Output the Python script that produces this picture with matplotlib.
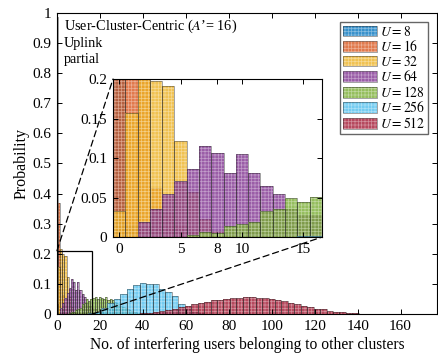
import matplotlib.pyplot as plt
from matplotlib.legend_handler import HandlerTuple
from matplotlib.patches import ConnectionPatch, Rectangle

plt.rcParams['font.family'] = ['Liberation Serif', 'DejaVu Serif']
plt.rcParams['mathtext.fontset'] = 'stix'
plt.rcParams['hatch.linewidth'] = 0.5

# histogram bin centres and probabilities
u8_x = [0, 1]
u8_p = [0.985, 0.015]

u16_x = [0, 1, 2, 3, 4, 5, 6, 7, 8]
u16_p = [0.30, 0.37, 0.21, 0.062, 0.03, 0.015, 0.008, 0.004, 0.001]

u32_x = [0, 1, 2, 3, 4, 5, 6, 7, 8, 9]
u32_p = [0.033, 0.157, 0.215, 0.198, 0.191, 0.122, 0.057, 0.023, 0.008, 0.003]

u64_x = list(range(2, 25))
u64_p = [0.019, 0.035, 0.054, 0.071, 0.086, 0.115, 0.107, 0.081, 0.105, 0.081,
         0.065, 0.055, 0.035, 0.028, 0.028, 0.02, 0.015, 0.01, 0.007, 0.005,
         0.003, 0.002, 0.001]

u128_x = list(range(6, 41))
u128_p = [0.003, 0.006, 0.005, 0.014, 0.017, 0.019, 0.033, 0.035, 0.049, 0.044,
          0.051, 0.052, 0.055, 0.05, 0.058, 0.052, 0.05, 0.055, 0.048, 0.05,
          0.045, 0.04, 0.038, 0.032, 0.028, 0.024, 0.02, 0.016, 0.012, 0.009,
          0.007, 0.005, 0.003, 0.002, 0.001]

u256_x = [16, 19, 22, 25, 28, 31, 34, 37, 40, 43, 46, 49, 52, 55, 58, 61, 64, 67, 70]
u256_p = [0.002, 0.008, 0.02, 0.035, 0.05, 0.066, 0.083, 0.097, 0.102, 0.101,
          0.099, 0.083, 0.074, 0.06, 0.033, 0.018, 0.008, 0.003, 0.001]

u512_x = list(range(37, 143, 3))
u512_p = [0.001, 0.002, 0.004, 0.006, 0.009, 0.013, 0.018, 0.022, 0.025,
          0.034, 0.036, 0.04, 0.046, 0.048, 0.051,
          0.053, 0.054, 0.055, 0.055, 0.054, 0.054,
          0.05, 0.046, 0.042, 0.038, 0.034, 0.028,
          0.024, 0.018, 0.015, 0.011, 0.008, 0.006, 0.004, 0.002, 0.001]

labels = ['$U = 8$', '$U = 16$', '$U = 32$', '$U = 64$',
          '$U = 128$', '$U = 256$', '$U = 512$']
series_x = [u8_x, u16_x, u32_x, u64_x, u128_x, u256_x, u512_x]
series_p = [u8_p, u16_p, u32_p, u64_p, u128_p, u256_p, u512_p]

# matlab default colour order
colors = [(0.0, 0.447, 0.741), (0.85, 0.325, 0.098), (0.929, 0.694, 0.125),
          (0.494, 0.184, 0.556), (0.466, 0.674, 0.188), (0.301, 0.745, 0.933),
          (0.635, 0.078, 0.184)]


def draw_hists(a):
    handles = []
    for x, p, c in zip(series_x, series_p, colors):
        w = x[1] - x[0]
        f = a.bar(x, p, width=w, color=c + (0.78,), edgecolor=(1, 1, 1, 0.4),
                  hatch='+++++', linewidth=0)
        e = a.bar(x, p, width=w, fill=False,
                  edgecolor=(0.15, 0.15, 0.15, 0.6), linewidth=0.5)
        handles.append((f[0], e[0]))
    return handles


def style(a, fs):
    a.tick_params(direction='in', top=True, right=True, length=3.5,
                  width=0.7, labelsize=fs, pad=4)
    for s in a.spines.values():
        s.set_linewidth(0.8)


fig = plt.figure(figsize=(4.38, 3.56), dpi=100)
ax = fig.add_axes([0.130, 0.118, 0.868, 0.846])
handles = draw_hists(ax)
ax.set_xlim(0, 177)
ax.set_ylim(0, 1)
ax.set_xticks(range(0, 161, 20))
ax.set_yticks([i / 10 for i in range(11)])
ax.set_yticklabels(['0', '0.1', '0.2', '0.3', '0.4', '0.5', '0.6', '0.7',
                    '0.8', '0.9', '1'])
style(ax, 11)
ax.set_xlabel('No. of interfering users belonging to other clusters',
              fontsize=11.2, labelpad=3)
ax.set_ylabel('Probability', fontsize=11.5, labelpad=2)

ax.text(0.018, 0.985, "User-Cluster-Centric ($A$\u2019= 16)\nUplink\npartial",
        transform=ax.transAxes, va='top', ha='left', fontsize=10.3,
        linespacing=1.28)

leg = ax.legend(handles, labels, handler_map={tuple: HandlerTuple(ndivide=1)},
                loc='upper right', fontsize=9.8, handlelength=2.55,
                handleheight=0.85, labelspacing=0.04, handletextpad=0.2,
                borderpad=0.22, borderaxespad=0.65, fancybox=False,
                framealpha=1)
leg.get_frame().set_edgecolor((0.4, 0.4, 0.4))
leg.get_frame().set_linewidth(1.0)

# zoom box
ax.add_patch(Rectangle((0, 0), 16.5, 0.21, fill=False, edgecolor='k',
                       linewidth=0.9, zorder=5))

ins = fig.add_axes([0.258, 0.334, 0.477, 0.444])
draw_hists(ins)
ins.set_xlim(-0.5, 16.5)
ins.set_ylim(0, 0.2)
ins.set_xticks([0, 5, 8, 10, 15])
ins.set_yticks([0, 0.05, 0.1, 0.15, 0.2])
ins.set_yticklabels(['0', '0.05', '0.1', '0.15', '0.2'])
style(ins, 11)

c1 = ConnectionPatch(xyA=(0, 0.21), coordsA=ax.transData,
                     xyB=(0, 1), coordsB=ins.transAxes,
                     linestyle=(0, (5, 3)), linewidth=0.9, color='k')
c2 = ConnectionPatch(xyA=(16.5, 0), coordsA=ax.transData,
                     xyB=(1, 0), coordsB=ins.transAxes,
                     linestyle=(0, (5, 3)), linewidth=0.9, color='k')
ax.add_artist(c1)
ax.add_artist(c2)

fig.savefig('out.png', dpi=100)
